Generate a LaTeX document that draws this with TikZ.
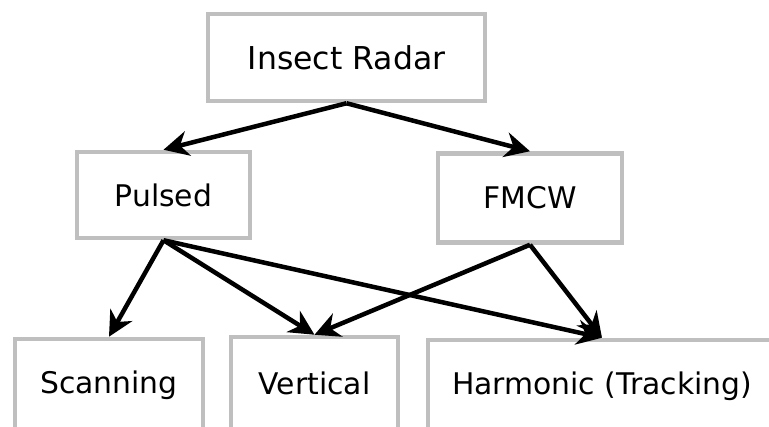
\documentclass[tikz,border=0pt]{standalone}
\usepackage{fontspec}
\setmainfont{DejaVu Sans}
\usetikzlibrary{arrows.meta}

\begin{document}
\begin{tikzpicture}[->,>={Stealth[length=25pt,width=25pt,inset=8pt]},line width=4.5pt,
    x=1pt,y=1pt,node distance=137.5pt,
    block/.style={draw=black!25,line width=4.5pt,inner sep=0pt,
      minimum height=86pt,font=\fontsize{29.8}{36}\selectfont}]

  \useasboundingbox (0,0) rectangle (769,-427);
  \clip (0,0) rectangle (769,-427);

  \node[block,minimum width=277pt,minimum height=87pt,font=\fontsize{31.5}{38}\selectfont] (radar) at (346.5,-57.5) {Insect Radar};
  \node[block,minimum width=173pt] (pulsed) [below of=radar, xshift=-183pt] {Pulsed};
  \node[block,minimum width=184pt,minimum height=89pt] (fmcw) [below of=radar, xshift=183.5pt, yshift=-3pt] {FMCW};
  \node[block,minimum width=188pt,minimum height=92pt] (scan) [below of=pulsed, node distance=190pt, xshift=-54.5pt] {Scanning};
  \node[block,minimum width=167pt,minimum height=92pt] (vert) [right of=scan, node distance=205.5pt, yshift=2pt] {Vertical};
  \node[block,minimum width=348pt,minimum height=92pt] (harm) [right of=vert, node distance=287.5pt, yshift=-3pt] {Harmonic (Tracking)};

  \path
  (radar.south) edge (pulsed.north)
  (radar.south) edge (fmcw.north)
  (pulsed.south) edge (scan.north)
  (pulsed.south) edge (vert.north)
  (pulsed.south) edge (harm.north)
  (fmcw.south) edge (vert.north)
  (fmcw.south) edge (harm.north);

\end{tikzpicture}
\end{document}
